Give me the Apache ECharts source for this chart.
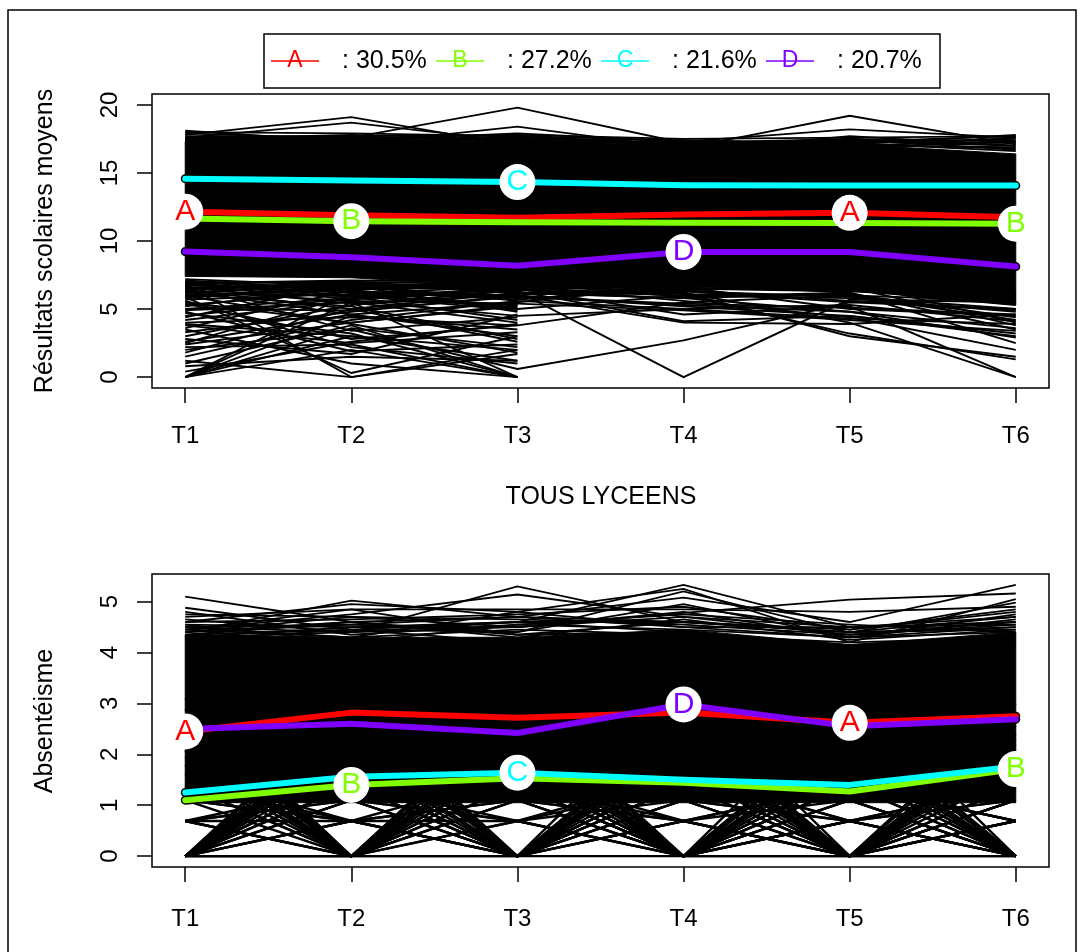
<!DOCTYPE html>
<html><head><meta charset="utf-8">
<script src="https://cdn.jsdelivr.net/npm/echarts@6/dist/echarts.min.js"></script>
<style>html,body{margin:0;padding:0;background:#fff}#c{width:1080px;height:952px}</style>
</head><body><div id="c"></div><script>
// ---------- data ----------
const times = [1, 2, 3, 4, 5, 6];
const clusterNames = ['A', 'B', 'C', 'D'];
const clusterShares = ['30.5%', '27.2%', '21.6%', '20.7%'];
const clusterColors = ['#FF0000', '#80FF00', '#00FFFF', '#8000FF'];
const labelTimes = [[1, 5], [2, 6], [3], [4]];
const gradeTicks = [0, 5, 10, 15, 20];
const absenceTicks = [0, 1, 2, 3, 4, 5];

// cluster mean trajectories – grades (Résultats scolaires moyens)
const gradeMeanA = [12.15, 11.90, 11.70, 11.95, 12.07, 11.75];
const gradeMeanB = [11.66, 11.46, 11.38, 11.34, 11.32, 11.27];
const gradeMeanC = [14.58, 14.45, 14.33, 14.09, 14.08, 14.07];
const gradeMeanD = [9.22, 8.80, 8.18, 9.20, 9.20, 8.12];
// cluster mean trajectories – absenteeism
const absenceMeanA = [2.45, 2.82, 2.72, 2.82, 2.62, 2.75];
const absenceMeanB = [1.10, 1.40, 1.53, 1.44, 1.27, 1.71];
const absenceMeanC = [1.25, 1.56, 1.64, 1.50, 1.40, 1.76];
const absenceMeanD = [2.50, 2.60, 2.42, 2.98, 2.55, 2.69];

// dense core of individual trajectories (solid black mass)
const gradeCoreLower = [7.4, 7.3, 6.6, 6.6, 6.4, 5.3];
const gradeCoreUpper = [17.3, 17.4, 17.3, 17.1, 17.1, 16.4];
const absenceCoreLower = [1.05, 1.05, 1.05, 1.05, 1.05, 1.05];
const absenceCoreUpper = [4.35, 4.3, 4.3, 4.45, 4.15, 4.4];

// individual trajectories visible outside the dense core – grades
const gradeHighPaths = [
  [18.1, 17.3, 17.4, 16.6, 17.3, 17.7],
  [18.0, 17.9, 17.7, 17.4, 17.1, 17.8],
  [17.8, 19.1, 17.0, 16.7, 16.9, 17.6],
  [17.6, 18.7, 17.3, 16.9, 17.2, 17.5],
  [17.5, 17.6, 19.8, 17.2, 16.9, 17.3],
  [17.4, 17.1, 18.4, 16.8, 19.2, 17.1],
  [17.6, 17.4, 17.9, 17.3, 18.2, 17.6],
  [17.7, 17.7, 17.8, 17.5, 17.6, 17.7],
  [17.5, 17.8, 17.5, 16.6, 17.7, 17.0],
  [17.3, 17.5, 17.6, 17.1, 17.4, 17.4],
  [17.4, 17.2, 17.2, 17.3, 17.0, 16.9],
  [17.2, 17.6, 17.0, 16.9, 17.5, 16.7],
  [17.9, 17.5, 17.6, 17.0, 17.3, 17.2],
  [17.3, 17.3, 17.5, 17.4, 17.2, 16.6],
  [17.6, 17.6, 17.4, 17.2, 17.5, 17.3],
  [17.5, 17.4, 17.7, 17.1, 17.3, 17.0],
  [17.4, 17.7, 17.3, 17.3, 17.1, 16.8]
];
const gradeLowPaths = [
  [0, 4.5, 3.5, null, null, null],
  [0, 6.2, 5.0, 6.0, 5.8, 4.8],
  [0, 3.0, 1.2, null, null, null],
  [0, 5.5, 4.0, null, null, null],
  [0, 2.0, 0, null, null, null],
  [0, 3.6, 2.2, null, null, null],
  [6.8, 0, 2.0, null, null, null],
  [5.9, 0.3, 3.0, null, null, null],
  [1.0, 3.8, 0, null, null, null],
  [2.2, 2.4, 0, null, null, null],
  [3.5, 1.0, 0, null, null, null],
  [4.7, 3.2, 0, null, null, null],
  [1.8, 5.0, 2.6, null, null, null],
  [2.8, 1.7, 4.6, null, null, null],
  [4.0, 4.4, 3.8, 5.5, 6.0, 4.2],
  [5.2, 6.6, 5.8, 6.3, 5.9, 5.0],
  [6.3, 4.6, 5.5, 6.8, 6.6, 3.8],
  [6.6, 5.9, 4.2, null, null, null],
  [7.0, 6.3, 6.0, 5.2, 4.5, 3.2],
  [3.0, 5.3, 6.4, 6.9, 6.2, 2.5],
  [4.4, 6.9, 6.2, 6.4, 7.0, 4.0],
  [5.5, 4.0, 5.2, null, null, null],
  [6.1, 5.2, 2.8, null, null, null],
  [0.8, 1.5, 1.2, null, null, null],
  [3.8, 2.5, 3.3, null, null, null],
  [6.5, 6.8, 6.3, 0.0, 5.7, 5.5],
  [2.0, 3.5, 0.6, 2.7, 5.5, 5.0],
  [5.0, 5.8, 6.3, 4.1, 4.5, 3.0],
  [6.0, 6.5, 6.5, 4.6, 5.2, 0.0],
  [6.9, 7.0, 6.8, 6.2, 4.0, 0.0],
  [6.2, 6.0, 6.4, 6.0, 3.2, 1.3],
  [6.7, 6.6, 6.7, 5.6, 4.4, 2.0],
  [6.4, 6.9, 6.6, 6.6, 5.0, 4.5],
  [7.2, 6.7, 6.9, 5.9, 6.2, 3.5],
  [6.9, 7.1, 7.0, 6.3, 5.5, 5.8],
  [7.1, 6.4, 6.9, 6.5, 6.4, 5.3],
  [5.7, 6.1, 6.7, 6.7, 6.7, 6.0],
  [4.2, 5.6, 5.4, 4.9, 4.2, 3.4],
  [3.3, 4.8, 6.0, 4.0, 3.9, 4.6],
  [6.6, 5.4, 6.1, 6.2, 3.0, 1.5],
  [5.4, 2.8, 3.8, null, null, null],
  [6.0, 3.9, 1.8, null, null, null],
  [2.5, 6.0, 4.9, null, null, null],
  [1.5, 4.2, 5.6, null, null, null],
  [6.9, 6.0, 5.3, null, null, null],
  [6.4, 5.0, 6.2, 5.8, 6.1, 4.4],
  [5.8, 6.7, 4.8, null, null, null],
  [5.0, 4.9, 5.9, 5.3, 4.8, 3.6],
  [4.5, 5.8, 6.6, null, null, null],
  [3.6, 6.4, 5.1, null, null, null],
  [2.4, 4.0, 5.3, null, null, null],
  [6.7, 3.4, 4.4, null, null, null],
  [5.6, 2.2, 1.0, null, null, null],
  [0.4, 2.6, 3.9, null, null, null],
  [1.2, 0.0, 1.7, null, null, null],
  [4.9, 5.5, 0.0, null, null, null],
  [6.2, 6.8, 5.6, 5.0, 5.3, 4.1],
  [7.0, 5.7, 6.5, 6.1, 6.0, 5.6],
  [6.8, 6.2, 5.9, 5.4, 5.1, 4.6],
  [5.3, 6.3, 5.7, 6.5, 6.3, 5.7],
  [6.5, 7.0, 6.2, 5.8, 4.8, 2.9],
  [3.9, 3.0, 2.0, null, null, null],
  [2.6, 4.6, 3.0, null, null, null],
  [4.8, 1.9, 2.4, null, null, null],
  [6.3, 5.6, 4.5, 5.0, 4.3, 3.9],
  [5.9, 6.5, 6.9, 6.4, 5.6, 4.9],
  [7.0, 6.9, 6.4, 6.7, 6.5, 6.2]
];
// individual trajectories visible outside the dense core – absenteeism
const absenceHighPaths = [
  [5.10, 4.60, 4.35, 4.40, 4.10, 4.20],
  [4.88, 4.45, 4.20, 4.30, 4.05, 4.10],
  [4.40, 5.02, 4.70, 4.60, 4.40, 4.50],
  [4.60, 4.95, 4.80, 4.50, 4.30, 4.40],
  [4.50, 4.40, 5.30, 4.60, 4.40, 4.45],
  [4.45, 4.75, 5.14, 4.70, 4.50, 4.55],
  [4.70, 4.85, 4.85, 4.85, 4.80, 4.90],
  [4.30, 4.50, 4.60, 5.33, 4.50, 4.70],
  [4.40, 4.60, 4.70, 5.08, 4.60, 5.33],
  [4.30, 4.40, 4.50, 4.78, 5.04, 5.16],
  [4.40, 4.55, 4.40, 5.20, 4.39, 4.98],
  [4.60, 4.65, 4.75, 4.90, 4.45, 4.80],
  [4.50, 4.30, 4.80, 5.25, 4.20, 5.05],
  [4.75, 4.70, 4.65, 4.55, 4.35, 4.60],
  [4.45, 4.30, 4.45, 4.35, 4.20, 4.30],
  [4.35, 4.60, 4.30, 4.65, 4.25, 4.45],
  [4.55, 4.20, 4.55, 4.45, 4.30, 4.65],
  [4.25, 4.45, 4.60, 4.40, 4.15, 4.35],
  [4.55, 4.50, 4.50, 4.70, 4.35, 4.55],
  [4.65, 4.40, 4.60, 4.60, 4.40, 4.70],
  [4.40, 4.70, 4.50, 4.80, 4.30, 4.50],
  [4.50, 4.55, 4.70, 4.50, 4.50, 4.60],
  [4.35, 4.45, 4.40, 4.95, 4.30, 4.75],
  [4.80, 4.35, 4.55, 4.75, 4.55, 4.40],
  [4.45, 4.85, 4.35, 4.60, 4.45, 4.85]
];
const absenceLowPaths = [
  [0, 0.69, 0, 0.69, 0, 0.69],
  [0.69, 0, 0.69, 0, 0.69, 0],
  [0, 1.10, 0, 1.10, 0, 1.10],
  [1.10, 0, 1.10, 0, 1.10, 0],
  [0, 1.39, 0, 1.39, 0, 1.39],
  [1.39, 0, 1.39, 0, 1.39, 0],
  [0, 1.61, 0, 1.61, 0, 1.79],
  [1.61, 0, 1.79, 0, 1.61, 0],
  [0, 1.79, 0, 1.95, 0, 1.61],
  [1.79, 0, 1.61, 0, 1.95, 0],
  [0, 1.95, 0, 1.79, 0, 2.08],
  [1.95, 0, 2.08, 0, 1.79, 0],
  [0, 2.08, 0, 2.20, 0, 1.95],
  [2.08, 0, 1.95, 0, 2.20, 0],
  [0, 2.30, 0, 2.08, 0, 2.30],
  [2.20, 0, 2.30, 0, 2.08, 0],
  [0, 2.40, 0, 2.30, 0, 2.20],
  [2.40, 0, 2.20, 0, 2.40, 0],
  [0, 0, 0, 0, 0, 0],
  [0, 0.69, 0.69, 0, 1.10, 0],
  [1.10, 0.69, 0, 0.69, 0, 1.10],
  [0.69, 1.10, 1.39, 0, 0.69, 1.39],
  [1.39, 1.10, 0.69, 1.39, 0, 0.69],
  [0, 1.10, 1.39, 0.69, 1.10, 0],
  [0.69, 0.69, 1.10, 1.10, 0.69, 1.10],
  [1.10, 1.39, 1.10, 1.39, 1.10, 1.61],
  [1.95, 1.10, 0, 1.61, 0.69, 0],
  [0, 1.95, 1.39, 0, 1.79, 0],
  [0, 0, 0.69, 0, 0, 0.69],
  [0.69, 0, 0, 1.10, 0, 0],
  [0, 2.48, 0, 2.56, 0, 2.40],
  [2.56, 0, 2.48, 0, 2.64, 0],
  [0, 2.64, 0, 2.48, 0, 2.56],
  [2.71, 0, 2.64, 0, 2.48, 0],
  [0, 2.83, 0, 2.71, 0, 2.83],
  [2.89, 0, 2.83, 0, 2.71, 0],
  [0, 3.00, 0, 3.20, 0, 3.00],
  [3.10, 0, 3.00, 0, 3.20, 0],
  [0, 0.69, 0, 1.10, 0, 1.39],
  [1.39, 0, 1.10, 0, 0.69, 0],
  [0, 1.10, 0, 1.61, 0, 0.69],
  [0.69, 0, 1.61, 0, 1.10, 0],
  [0, 1.39, 0, 0.69, 0, 1.10],
  [1.79, 0, 1.39, 0, 1.61, 0],
  [0, 1.61, 0, 1.39, 0, 1.95],
  [2.08, 0, 1.79, 0, 1.39, 0],
  [0.69, 1.39, 0.69, 1.61, 0.69, 1.10],
  [1.39, 0.69, 1.61, 0.69, 1.39, 0.69],
  [1.10, 0.69, 1.10, 0.69, 1.39, 0.69],
  [0.69, 1.10, 0.69, 1.10, 0.69, 1.39],
  [0, 0, 1.10, 0, 0.69, 0],
  [0, 1.61, 1.10, 0.69, 0, 1.39],
  [1.61, 0.69, 0, 1.39, 1.10, 0],
  [0, 2.20, 1.61, 0, 1.39, 0.69],
  [2.30, 1.39, 0, 2.08, 0, 1.10]
];

// ---------- build ----------
const FONT = '"Liberation Sans", Arial, sans-serif';
const gradeMeans = [gradeMeanA, gradeMeanB, gradeMeanC, gradeMeanD];
const absenceMeans = [absenceMeanA, absenceMeanB, absenceMeanC, absenceMeanD];

function xAxisCfg(gridIndex, margin) {
  return {
    type: 'value', gridIndex: gridIndex, min: 0.8, max: 6.2,
    axisLine: { show: false, onZero: false },
    splitLine: { show: false },
    axisTick: { show: true, length: 15, customValues: times, lineStyle: { color: '#000', width: 1.5 } },
    axisLabel: { customValues: times, formatter: function (v) { return 'T' + v; },
      color: '#000', fontSize: 24, fontFamily: FONT, margin: margin }
  };
}
function yAxisCfg(gridIndex, min, max, ticks) {
  return {
    type: 'value', gridIndex: gridIndex, min: min, max: max,
    axisLine: { show: false, onZero: false },
    splitLine: { show: false },
    axisTick: { show: true, length: 15, customValues: ticks, lineStyle: { color: '#000', width: 1.5 } },
    axisLabel: { customValues: ticks, rotate: 90, color: '#000', fontSize: 24, fontFamily: FONT, margin: 30 }
  };
}
function bandSeries(ax, lower, upper) {
  return {
    type: 'custom', xAxisIndex: ax, yAxisIndex: ax, silent: true, z: 1,
    data: [[times[0], lower[0]]],
    renderItem: function (params, api) {
      const pts = [];
      for (let i = 0; i < upper.length; i++) pts.push(api.coord([times[i], upper[i]]));
      for (let i = lower.length - 1; i >= 0; i--) pts.push(api.coord([times[i], lower[i]]));
      return { type: 'polygon', shape: { points: pts }, style: { fill: '#000', stroke: '#000', lineWidth: 1 } };
    }
  };
}
function pathSeries(ax, paths, width) {
  return {
    type: 'lines', coordinateSystem: 'cartesian2d', xAxisIndex: ax, yAxisIndex: ax,
    polyline: true, silent: true, z: 2,
    lineStyle: { color: '#000', width: width, opacity: 1 },
    data: paths.map(function (p) {
      return { coords: p.map(function (v, i) { return [times[i], v]; }).filter(function (c) { return c[1] !== null; }) };
    })
  };
}
function meanSeries(ax, means) {
  const out = [];
  means.forEach(function (m) {
    const data = m.map(function (v, i) { return [times[i], v]; });
    out.push({ type: 'line', xAxisIndex: ax, yAxisIndex: ax, data: data, symbol: 'none', silent: true, z: 3,
      lineStyle: { color: '#000', width: 9, cap: 'round', join: 'round' } });
  });
  means.forEach(function (m, k) {
    const data = m.map(function (v, i) { return [times[i], v]; });
    out.push({ type: 'line', xAxisIndex: ax, yAxisIndex: ax, data: data, symbol: 'none', silent: true, z: 4,
      lineStyle: { color: clusterColors[k], width: 6, cap: 'round', join: 'round' } });
  });
  means.forEach(function (m, k) {
    out.push({ type: 'scatter', xAxisIndex: ax, yAxisIndex: ax, silent: true, z: 5,
      symbol: 'circle', symbolSize: 36, itemStyle: { color: '#fff', opacity: 1 },
      label: { show: true, position: 'inside', formatter: clusterNames[k], color: clusterColors[k],
        fontSize: 30, fontFamily: FONT },
      data: labelTimes[k].map(function (t) { return [t, m[t - 1]]; }) });
  });
  return out;
}

const graphics = [
  { type: 'rect', shape: { x: 8, y: 10, width: 1068, height: 1000 }, style: { fill: 'none', stroke: '#000', lineWidth: 1.5 }, z: 0 },
  { type: 'rect', shape: { x: 264, y: 34, width: 676, height: 54 }, style: { fill: '#fff', stroke: '#000', lineWidth: 1.5 } },
  { type: 'text', x: 45, y: 241, rotation: Math.PI / 2,
    style: { text: 'Résultats scolaires moyens', font: '25px ' + FONT, fill: '#000', textAlign: 'center', textVerticalAlign: 'middle' } },
  { type: 'text', x: 45, y: 721, rotation: Math.PI / 2,
    style: { text: 'Absentéisme', font: '25px ' + FONT, fill: '#000', textAlign: 'center', textVerticalAlign: 'middle' } },
  { type: 'text', x: 601, y: 497,
    style: { text: 'TOUS LYCEENS', font: '25px ' + FONT, fill: '#000', textAlign: 'center', textVerticalAlign: 'middle' } }
];
clusterNames.forEach(function (n, i) {
  const x0 = 271 + 165 * i;
  graphics.push({ type: 'line', shape: { x1: x0, y1: 61, x2: x0 + 48, y2: 61 }, style: { stroke: clusterColors[i], lineWidth: 1.5 } });
  graphics.push({ type: 'text', x: x0 + 24, y: 61,
    style: { text: n, font: '23px ' + FONT, fill: clusterColors[i], textAlign: 'center', textVerticalAlign: 'middle' } });
  graphics.push({ type: 'text', x: x0 + 71, y: 61,
    style: { text: ': ' + clusterShares[i], font: '25px ' + FONT, fill: '#000', textAlign: 'left', textVerticalAlign: 'middle' } });
});

const option = {
  animation: false,
  backgroundColor: '#fff',
  grid: [
    { left: 152, top: 94, width: 897, height: 294, show: true, borderColor: '#000', borderWidth: 1.5, backgroundColor: 'transparent' },
    { left: 152, top: 574, width: 897, height: 293, show: true, borderColor: '#000', borderWidth: 1.5, backgroundColor: 'transparent' }
  ],
  xAxis: [xAxisCfg(0, 36), xAxisCfg(1, 40)],
  yAxis: [yAxisCfg(0, -0.8, 20.8, gradeTicks), yAxisCfg(1, -0.2132, 5.5432, absenceTicks)],
  graphic: graphics,
  series: [].concat(
    [bandSeries(0, gradeCoreLower, gradeCoreUpper), pathSeries(0, gradeHighPaths, 1.8), pathSeries(0, gradeLowPaths, 1.9)],
    meanSeries(0, gradeMeans),
    [bandSeries(1, absenceCoreLower, absenceCoreUpper), pathSeries(1, absenceHighPaths, 1.8), pathSeries(1, absenceLowPaths, 2.4)],
    meanSeries(1, absenceMeans)
  )
};
const chart = echarts.init(document.getElementById('c'), null, { renderer: 'canvas' });
chart.setOption(option);
</script></body></html>
